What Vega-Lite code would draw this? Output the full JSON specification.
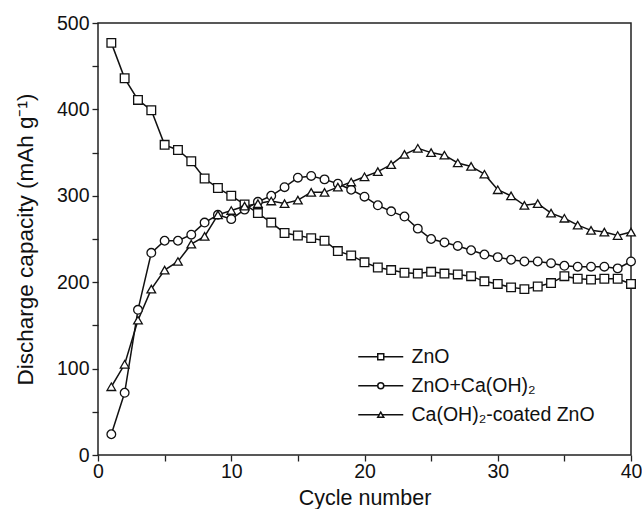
{
  "$schema": "https://vega.github.io/schema/vega-lite/v6.json",
  "width": 533,
  "height": 432,
  "autosize": {"type": "none"},
  "padding": {"left": 98, "top": 23, "right": 11, "bottom": 54},
  "background": "white",
  "config": {
    "font": "Liberation Sans",
    "view": {"stroke": "#222", "strokeWidth": 1.5},
    "axis": {"domain": false, "grid": false, "labelFont": "Liberation Sans", "titleFont": "Liberation Sans", "labelColor": "#111", "titleColor": "#111", "tickColor": "#222", "tickWidth": 1.3, "labelFontSize": 19.5, "titleFontSize": 21.5, "titleFontWeight": "normal"}
  },
  "data": {"values": [
    {"cycle":1,"capacity":477,"series":"ZnO"},{"cycle":2,"capacity":436,"series":"ZnO"},{"cycle":3,"capacity":411,"series":"ZnO"},{"cycle":4,"capacity":399,"series":"ZnO"},{"cycle":5,"capacity":359,"series":"ZnO"},{"cycle":6,"capacity":353,"series":"ZnO"},{"cycle":7,"capacity":340,"series":"ZnO"},{"cycle":8,"capacity":320,"series":"ZnO"},{"cycle":9,"capacity":309,"series":"ZnO"},{"cycle":10,"capacity":300,"series":"ZnO"},
    {"cycle":11,"capacity":290,"series":"ZnO"},{"cycle":12,"capacity":280,"series":"ZnO"},{"cycle":13,"capacity":269,"series":"ZnO"},{"cycle":14,"capacity":257,"series":"ZnO"},{"cycle":15,"capacity":254,"series":"ZnO"},{"cycle":16,"capacity":251,"series":"ZnO"},{"cycle":17,"capacity":248,"series":"ZnO"},{"cycle":18,"capacity":236,"series":"ZnO"},{"cycle":19,"capacity":231,"series":"ZnO"},{"cycle":20,"capacity":223,"series":"ZnO"},
    {"cycle":21,"capacity":217,"series":"ZnO"},{"cycle":22,"capacity":214,"series":"ZnO"},{"cycle":23,"capacity":211,"series":"ZnO"},{"cycle":24,"capacity":210,"series":"ZnO"},{"cycle":25,"capacity":212,"series":"ZnO"},{"cycle":26,"capacity":210,"series":"ZnO"},{"cycle":27,"capacity":209,"series":"ZnO"},{"cycle":28,"capacity":207,"series":"ZnO"},{"cycle":29,"capacity":201,"series":"ZnO"},{"cycle":30,"capacity":198,"series":"ZnO"},
    {"cycle":31,"capacity":194,"series":"ZnO"},{"cycle":32,"capacity":192,"series":"ZnO"},{"cycle":33,"capacity":195,"series":"ZnO"},{"cycle":34,"capacity":199,"series":"ZnO"},{"cycle":35,"capacity":207,"series":"ZnO"},{"cycle":36,"capacity":204,"series":"ZnO"},{"cycle":37,"capacity":203,"series":"ZnO"},{"cycle":38,"capacity":204,"series":"ZnO"},{"cycle":39,"capacity":204,"series":"ZnO"},{"cycle":40,"capacity":198,"series":"ZnO"},
    {"cycle":1,"capacity":24,"series":"ZnO+Ca(OH)₂"},{"cycle":2,"capacity":72,"series":"ZnO+Ca(OH)₂"},{"cycle":3,"capacity":168,"series":"ZnO+Ca(OH)₂"},{"cycle":4,"capacity":234,"series":"ZnO+Ca(OH)₂"},{"cycle":5,"capacity":248,"series":"ZnO+Ca(OH)₂"},{"cycle":6,"capacity":248,"series":"ZnO+Ca(OH)₂"},{"cycle":7,"capacity":255,"series":"ZnO+Ca(OH)₂"},{"cycle":8,"capacity":269,"series":"ZnO+Ca(OH)₂"},{"cycle":9,"capacity":278,"series":"ZnO+Ca(OH)₂"},{"cycle":10,"capacity":273,"series":"ZnO+Ca(OH)₂"},
    {"cycle":11,"capacity":284,"series":"ZnO+Ca(OH)₂"},{"cycle":12,"capacity":293,"series":"ZnO+Ca(OH)₂"},{"cycle":13,"capacity":300,"series":"ZnO+Ca(OH)₂"},{"cycle":14,"capacity":310,"series":"ZnO+Ca(OH)₂"},{"cycle":15,"capacity":321,"series":"ZnO+Ca(OH)₂"},{"cycle":16,"capacity":323,"series":"ZnO+Ca(OH)₂"},{"cycle":17,"capacity":319,"series":"ZnO+Ca(OH)₂"},{"cycle":18,"capacity":314,"series":"ZnO+Ca(OH)₂"},{"cycle":19,"capacity":307,"series":"ZnO+Ca(OH)₂"},{"cycle":20,"capacity":299,"series":"ZnO+Ca(OH)₂"},
    {"cycle":21,"capacity":289,"series":"ZnO+Ca(OH)₂"},{"cycle":22,"capacity":282,"series":"ZnO+Ca(OH)₂"},{"cycle":23,"capacity":276,"series":"ZnO+Ca(OH)₂"},{"cycle":24,"capacity":262,"series":"ZnO+Ca(OH)₂"},{"cycle":25,"capacity":250,"series":"ZnO+Ca(OH)₂"},{"cycle":26,"capacity":246,"series":"ZnO+Ca(OH)₂"},{"cycle":27,"capacity":242,"series":"ZnO+Ca(OH)₂"},{"cycle":28,"capacity":237,"series":"ZnO+Ca(OH)₂"},{"cycle":29,"capacity":232,"series":"ZnO+Ca(OH)₂"},{"cycle":30,"capacity":229,"series":"ZnO+Ca(OH)₂"},
    {"cycle":31,"capacity":226,"series":"ZnO+Ca(OH)₂"},{"cycle":32,"capacity":224,"series":"ZnO+Ca(OH)₂"},{"cycle":33,"capacity":224,"series":"ZnO+Ca(OH)₂"},{"cycle":34,"capacity":222,"series":"ZnO+Ca(OH)₂"},{"cycle":35,"capacity":219,"series":"ZnO+Ca(OH)₂"},{"cycle":36,"capacity":218,"series":"ZnO+Ca(OH)₂"},{"cycle":37,"capacity":218,"series":"ZnO+Ca(OH)₂"},{"cycle":38,"capacity":218,"series":"ZnO+Ca(OH)₂"},{"cycle":39,"capacity":216,"series":"ZnO+Ca(OH)₂"},{"cycle":40,"capacity":224,"series":"ZnO+Ca(OH)₂"},
    {"cycle":1,"capacity":79,"series":"Ca(OH)₂-coated ZnO"},{"cycle":2,"capacity":105,"series":"Ca(OH)₂-coated ZnO"},{"cycle":3,"capacity":156,"series":"Ca(OH)₂-coated ZnO"},{"cycle":4,"capacity":192,"series":"Ca(OH)₂-coated ZnO"},{"cycle":5,"capacity":214,"series":"Ca(OH)₂-coated ZnO"},{"cycle":6,"capacity":224,"series":"Ca(OH)₂-coated ZnO"},{"cycle":7,"capacity":244,"series":"Ca(OH)₂-coated ZnO"},{"cycle":8,"capacity":253,"series":"Ca(OH)₂-coated ZnO"},{"cycle":9,"capacity":278,"series":"Ca(OH)₂-coated ZnO"},{"cycle":10,"capacity":283,"series":"Ca(OH)₂-coated ZnO"},
    {"cycle":11,"capacity":288,"series":"Ca(OH)₂-coated ZnO"},{"cycle":12,"capacity":291,"series":"Ca(OH)₂-coated ZnO"},{"cycle":13,"capacity":294,"series":"Ca(OH)₂-coated ZnO"},{"cycle":14,"capacity":291,"series":"Ca(OH)₂-coated ZnO"},{"cycle":15,"capacity":295,"series":"Ca(OH)₂-coated ZnO"},{"cycle":16,"capacity":304,"series":"Ca(OH)₂-coated ZnO"},{"cycle":17,"capacity":304,"series":"Ca(OH)₂-coated ZnO"},{"cycle":18,"capacity":310,"series":"Ca(OH)₂-coated ZnO"},{"cycle":19,"capacity":316,"series":"Ca(OH)₂-coated ZnO"},{"cycle":20,"capacity":322,"series":"Ca(OH)₂-coated ZnO"},
    {"cycle":21,"capacity":328,"series":"Ca(OH)₂-coated ZnO"},{"cycle":22,"capacity":336,"series":"Ca(OH)₂-coated ZnO"},{"cycle":23,"capacity":348,"series":"Ca(OH)₂-coated ZnO"},{"cycle":24,"capacity":355,"series":"Ca(OH)₂-coated ZnO"},{"cycle":25,"capacity":350,"series":"Ca(OH)₂-coated ZnO"},{"cycle":26,"capacity":347,"series":"Ca(OH)₂-coated ZnO"},{"cycle":27,"capacity":338,"series":"Ca(OH)₂-coated ZnO"},{"cycle":28,"capacity":334,"series":"Ca(OH)₂-coated ZnO"},{"cycle":29,"capacity":325,"series":"Ca(OH)₂-coated ZnO"},{"cycle":30,"capacity":307,"series":"Ca(OH)₂-coated ZnO"},
    {"cycle":31,"capacity":300,"series":"Ca(OH)₂-coated ZnO"},{"cycle":32,"capacity":289,"series":"Ca(OH)₂-coated ZnO"},{"cycle":33,"capacity":291,"series":"Ca(OH)₂-coated ZnO"},{"cycle":34,"capacity":280,"series":"Ca(OH)₂-coated ZnO"},{"cycle":35,"capacity":274,"series":"Ca(OH)₂-coated ZnO"},{"cycle":36,"capacity":266,"series":"Ca(OH)₂-coated ZnO"},{"cycle":37,"capacity":260,"series":"Ca(OH)₂-coated ZnO"},{"cycle":38,"capacity":258,"series":"Ca(OH)₂-coated ZnO"},{"cycle":39,"capacity":254,"series":"Ca(OH)₂-coated ZnO"},{"cycle":40,"capacity":258,"series":"Ca(OH)₂-coated ZnO"}
  ]},
  "encoding": {
    "x": {"field": "cycle", "type": "quantitative", "scale": {"domain": [0, 40], "nice": false},
      "axis": {"title": "Cycle number", "values": [0,5,10,15,20,25,30,35,40], "labelExpr": "datum.value % 10 === 0 ? datum.label : ''", "tickSize": 6, "labelPadding": 1, "titlePadding": 7, "labelFlush": false, "labelOverlap": false,
        "encode": {"ticks": {"update": {"y2": {"signal": "datum.value % 10 === 0 ? -6 : -3"}}}}}},
    "y": {"field": "capacity", "type": "quantitative", "scale": {"domain": [0, 500], "nice": false},
      "axis": {"title": "Discharge capacity (mAh g⁻¹)", "titleFontSize": 22.5, "values": [0,50,100,150,200,250,300,350,400,450,500], "labelExpr": "datum.value % 100 === 0 ? datum.label : ''", "tickSize": 6, "labelPadding": 3, "titlePadding": 19, "labelFlush": false, "labelOverlap": false,
        "encode": {"ticks": {"update": {"x2": {"signal": "datum.value % 100 === 0 ? 6 : 3"}}}}}}
  },
  "layer": [
    {"mark": {"type": "line", "strokeWidth": 1.5},
     "encoding": {
       "color": {"field": "series", "type": "nominal",
         "scale": {"range": ["#111", "#111", "#111"]},
         "legend": {"title": null, "orient": "none", "legendX": 273, "legendY": 324, "padding": 0, "symbolType": "M-7.5,0H7.5", "symbolSize": 36, "symbolStrokeWidth": 1.3, "labelOffset": 21, "rowPadding": 8, "labelFontSize": 19.5, "labelFont": "Liberation Sans", "labelColor": "#111", "labelOpacity": 0, "labelExpr": "' '", "labelLimit": 400}
       }
     }},
    {"mark": {"type": "point", "filled": false, "color": "#111", "fill": "white", "fillOpacity": 1, "stroke": "#111", "strokeWidth": 1.3, "opacity": 1, "size": 75},
     "encoding": {
       "shape": {"field": "series", "type": "nominal",
         "scale": {"domain": ["ZnO", "ZnO+Ca(OH)₂", "Ca(OH)₂-coated ZnO"], "range": ["square", "circle", "triangle-up"]},
         "legend": {"title": null, "orient": "none", "legendX": 273, "legendY": 324, "padding": 0, "symbolSize": 36, "labelOffset": 21, "rowPadding": 8, "labelFontSize": 19.5, "labelFont": "Liberation Sans", "labelColor": "#111", "labelLimit": 400,
           "encode": {"symbols": {"update": {"fill": {"value": "white"}, "fillOpacity": {"value": 1}, "stroke": {"value": "#111"}, "strokeWidth": {"value": 1.2}, "opacity": {"value": 1}}}}}
       }
     }}
  ]
}
